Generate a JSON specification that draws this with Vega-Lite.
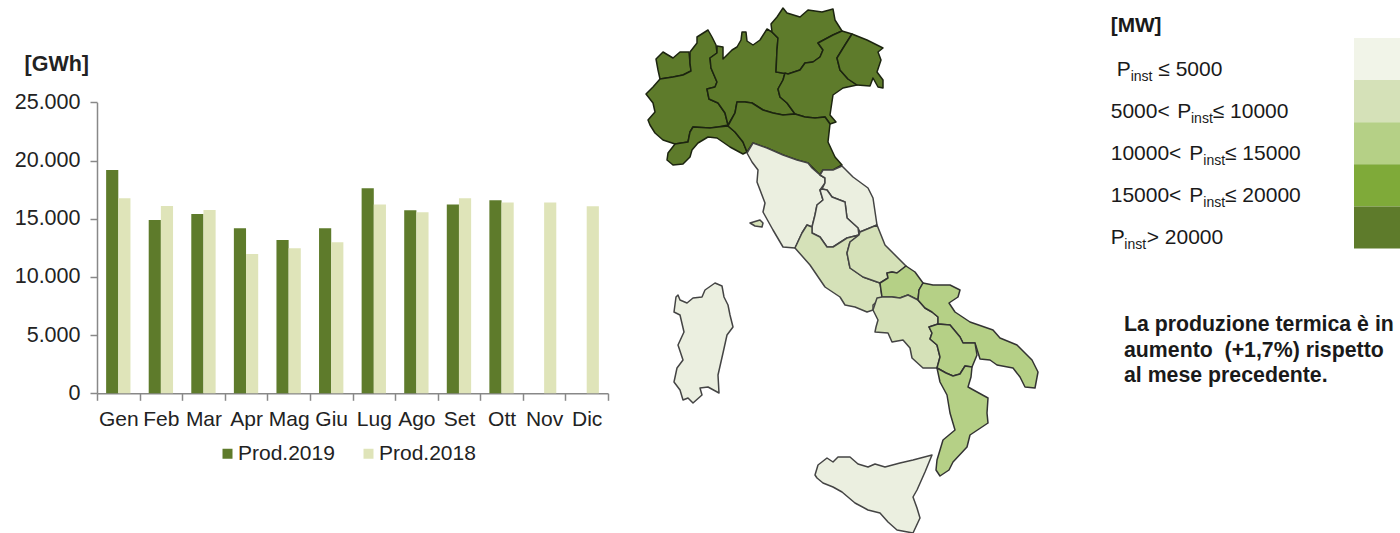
{"$schema":"https://vega.github.io/schema/vega-lite/v6.json","width":1400,"height":533,"padding":0,"autosize":{"type":"none"},"background":"white","config":{"view":{"stroke":null},"font":"Liberation Sans"},
"resolve":{"scale":{"x":"independent","y":"independent","color":"independent"}},
"layer":[
{"data":{"values":[
{"mese":"Gen","serie":"Prod.2019","gwh":19180},{"mese":"Gen","serie":"Prod.2018","gwh":16750},
{"mese":"Feb","serie":"Prod.2019","gwh":14890},{"mese":"Feb","serie":"Prod.2018","gwh":16090},
{"mese":"Mar","serie":"Prod.2019","gwh":15400},{"mese":"Mar","serie":"Prod.2018","gwh":15750},
{"mese":"Apr","serie":"Prod.2019","gwh":14170},{"mese":"Apr","serie":"Prod.2018","gwh":11970},
{"mese":"Mag","serie":"Prod.2019","gwh":13170},{"mese":"Mag","serie":"Prod.2018","gwh":12460},
{"mese":"Giu","serie":"Prod.2019","gwh":14170},{"mese":"Giu","serie":"Prod.2018","gwh":12970},
{"mese":"Lug","serie":"Prod.2019","gwh":17610},{"mese":"Lug","serie":"Prod.2018","gwh":16230},
{"mese":"Ago","serie":"Prod.2019","gwh":15720},{"mese":"Ago","serie":"Prod.2018","gwh":15550},
{"mese":"Set","serie":"Prod.2019","gwh":16230},{"mese":"Set","serie":"Prod.2018","gwh":16750},
{"mese":"Ott","serie":"Prod.2019","gwh":16580},{"mese":"Ott","serie":"Prod.2018","gwh":16400},
{"mese":"Nov","serie":"Prod.2018","gwh":16400},{"mese":"Dic","serie":"Prod.2018","gwh":16070}]},
"mark":{"type":"bar"},
"encoding":{
"x":{"field":"mese","type":"nominal","sort":null,"scale":{"domain":["Gen","Feb","Mar","Apr","Mag","Giu","Lug","Ago","Set","Ott","Nov","Dic"],"range":[97,608],"paddingInner":0,"paddingOuter":0},
"axis":{"title":null,"orient":"bottom","offset":-139.7,"tickBand":"extent","labelAngle":0,"labelFontSize":21,"labelColor":"#222","labelPadding":8,"tickSize":7,"tickColor":"#888","domainColor":"#888","domainWidth":1.5,"tickWidth":1.5,"grid":false,"labelOverlap":false}},
"xOffset":{"field":"serie","type":"nominal","sort":["Prod.2019","Prod.2018"],"scale":{"domain":["Prod.2019","Prod.2018"],"paddingInner":0,"paddingOuter":0.75}},
"y":{"field":"gwh","type":"quantitative","scale":{"domain":[0,25000],"range":[393.3,102.3]},
"axis":{"title":"[GWh]","titleAngle":0,"titleFontSize":21.5,"titleFontWeight":"bold","titleColor":"#222","titleAlign":"left","titleBaseline":"middle","titleX":-73,"titleY":64,"orient":"left","offset":-97,"values":[0,5000,10000,15000,20000,25000],"labelExpr":"replace(format(datum.value,','),',','.')","labelFontSize":21.5,"labelColor":"#222","labelPadding":10,"tickSize":7,"tickColor":"#888","domainColor":"#888","domainWidth":1.5,"tickWidth":1.5,"grid":false}},
"color":{"field":"serie","type":"nominal","scale":{"domain":["Prod.2019","Prod.2018"],"range":["#5E7B2B","#DFE4B9"]},
"legend":{"title":null,"orient":"none","legendX":217,"legendY":443,"direction":"horizontal","symbolType":"square","symbolSize":100,"symbolStrokeWidth":0,"labelFontSize":21,"labelColor":"#222","labelOffset":0,"columnPadding":23}}}},
{"data":{"values":[
{"type":"Feature","properties":{"regione":"Valle d'Aosta","classe":"c5"},"geometry":{"type":"Polygon","coordinates":[[[656,59],[663,52],[668,55],[673,58],[680,52],[689,52],[690,63],[691,71],[683,75],[673,77],[660,79],[658,70],[656,59]]]}},
{"type":"Feature","properties":{"regione":"Piemonte","classe":"c5"},"geometry":{"type":"Polygon","coordinates":[[[690,52],[697,43],[697,37],[708,30],[712,37],[716,45],[717,53],[710,58],[711,68],[717,82],[715,87],[707,89],[709,99],[718,103],[725,113],[728,125],[718,127],[710,128],[693,127],[690,132],[688,142],[675,144],[663,140],[655,133],[650,125],[648,120],[655,112],[653,103],[646,94],[653,87],[660,79],[673,77],[683,75],[691,71],[690,63],[690,52]]]}},
{"type":"Feature","properties":{"regione":"Liguria","classe":"c5"},"geometry":{"type":"Polygon","coordinates":[[[675,144],[688,142],[690,132],[693,127],[710,128],[718,127],[728,126],[735,132],[743,142],[747,152],[743,154],[730,147],[717,138],[708,137],[698,143],[692,150],[690,157],[683,164],[673,165],[667,160],[668,153],[675,144]]]}},
{"type":"Feature","properties":{"regione":"Lombardia","classe":"c5"},"geometry":{"type":"Polygon","coordinates":[[[717,46],[723,47],[723,59],[732,50],[737,47],[741,40],[742,32],[746,32],[747,41],[753,45],[760,40],[767,29],[772,32],[778,38],[777,50],[776,72],[785,73],[783,80],[778,89],[780,97],[787,103],[795,114],[783,115],[773,113],[763,110],[752,103],[745,102],[737,102],[735,113],[728,125],[725,113],[718,103],[709,99],[707,89],[715,87],[717,82],[711,68],[710,58],[717,53],[717,46]]]}},
{"type":"Feature","properties":{"regione":"Trentino-Alto Adige","classe":"c5"},"geometry":{"type":"Polygon","coordinates":[[[771,24],[777,17],[783,8],[787,13],[800,17],[808,10],[822,12],[833,9],[835,20],[842,31],[833,35],[818,43],[823,50],[820,57],[813,62],[805,63],[800,70],[788,74],[776,72],[777,50],[778,38],[772,32],[771,24]]]}},
{"type":"Feature","properties":{"regione":"Veneto","classe":"c5"},"geometry":{"type":"Polygon","coordinates":[[[842,31],[852,34],[845,45],[837,58],[840,70],[848,79],[857,85],[843,88],[833,95],[830,115],[836,122],[830,124],[825,117],[815,118],[805,117],[795,114],[787,103],[780,97],[778,89],[783,80],[785,73],[788,74],[800,70],[805,63],[813,62],[820,57],[823,50],[818,43],[833,35],[842,31]]]}},
{"type":"Feature","properties":{"regione":"Friuli-Venezia Giulia","classe":"c5"},"geometry":{"type":"Polygon","coordinates":[[[852,34],[867,40],[883,48],[878,52],[881,60],[877,72],[883,80],[883,88],[878,87],[873,78],[870,86],[857,85],[848,79],[840,70],[837,58],[845,45],[852,34]]]}},
{"type":"Feature","properties":{"regione":"Emilia-Romagna","classe":"c5"},"geometry":{"type":"Polygon","coordinates":[[[737,102],[745,102],[752,103],[763,110],[773,113],[783,115],[795,114],[805,117],[815,118],[825,117],[830,124],[828,142],[835,157],[842,165],[833,170],[823,170],[820,175],[808,163],[797,160],[783,155],[767,148],[753,143],[747,152],[743,142],[735,132],[728,126],[735,113],[737,102]]]}},
{"type":"Feature","properties":{"regione":"Toscana","classe":"c1"},"geometry":{"type":"Polygon","coordinates":[[[747,153],[753,143],[767,148],[783,155],[797,160],[808,163],[812,168],[820,175],[825,178],[825,183],[820,190],[823,200],[817,205],[815,215],[812,227],[807,225],[802,233],[795,248],[783,247],[773,230],[763,212],[765,203],[757,182],[758,170],[752,162],[747,153]]]}},
{"type":"Feature","properties":{"regione":"Marche","classe":"c1"},"geometry":{"type":"Polygon","coordinates":[[[823,170],[833,170],[842,166],[853,177],[868,188],[873,198],[877,225],[860,232],[858,228],[847,218],[845,202],[832,197],[827,190],[822,189],[825,183],[825,178],[820,175],[823,170]]]}},
{"type":"Feature","properties":{"regione":"Umbria","classe":"c1"},"geometry":{"type":"Polygon","coordinates":[[[822,189],[827,190],[832,197],[845,202],[847,218],[858,228],[859,235],[847,238],[833,247],[827,247],[820,237],[812,233],[812,227],[815,215],[817,205],[823,200],[820,190],[822,189]]]}},
{"type":"Feature","properties":{"regione":"Lazio","classe":"c2"},"geometry":{"type":"Polygon","coordinates":[[[795,248],[802,233],[807,225],[812,227],[812,233],[820,237],[827,247],[833,247],[847,238],[859,235],[850,242],[847,253],[850,268],[863,277],[880,283],[882,297],[873,305],[873,310],[867,312],[855,307],[845,305],[840,297],[825,287],[810,265],[795,248]]]}},
{"type":"Feature","properties":{"regione":"Abruzzo","classe":"c2"},"geometry":{"type":"Polygon","coordinates":[[[859,235],[860,232],[877,225],[885,245],[906,266],[897,273],[892,272],[887,273],[888,278],[880,283],[863,277],[850,268],[847,253],[850,242],[859,235]]]}},
{"type":"Feature","properties":{"regione":"Molise","classe":"c3"},"geometry":{"type":"Polygon","coordinates":[[[880,283],[888,278],[887,273],[892,272],[897,273],[906,266],[915,272],[923,283],[919,290],[918,300],[908,295],[900,298],[892,297],[882,297],[880,283]]]}},
{"type":"Feature","properties":{"regione":"Campania","classe":"c2"},"geometry":{"type":"Polygon","coordinates":[[[873,310],[877,298],[882,297],[892,297],[900,298],[908,295],[918,300],[925,308],[932,312],[938,317],[938,324],[929,327],[932,333],[930,339],[937,345],[940,357],[937,368],[923,368],[912,358],[910,348],[903,340],[892,342],[888,333],[875,332],[876,327],[878,320],[873,310]]]}},
{"type":"Feature","properties":{"regione":"Puglia","classe":"c3"},"geometry":{"type":"Polygon","coordinates":[[[923,283],[933,285],[950,285],[960,290],[958,297],[949,303],[955,312],[970,322],[993,330],[1000,338],[1017,345],[1032,360],[1038,372],[1035,388],[1025,387],[1020,377],[1013,368],[997,365],[990,360],[980,359],[975,343],[963,343],[960,337],[950,325],[938,324],[938,317],[932,312],[925,308],[918,300],[919,290],[923,283]]]}},
{"type":"Feature","properties":{"regione":"Basilicata","classe":"c3"},"geometry":{"type":"Polygon","coordinates":[[[929,327],[938,324],[950,325],[960,337],[963,343],[975,343],[977,355],[972,367],[965,366],[960,374],[953,376],[946,373],[937,368],[940,357],[937,345],[930,339],[932,333],[929,327]]]}},
{"type":"Feature","properties":{"regione":"Calabria","classe":"c3"},"geometry":{"type":"Polygon","coordinates":[[[937,368],[946,373],[953,376],[960,374],[965,366],[972,367],[971,377],[968,387],[988,398],[987,413],[988,423],[970,435],[967,447],[953,462],[949,470],[940,476],[936,470],[937,460],[943,440],[955,430],[950,413],[947,395],[940,382],[937,368]]]}},
{"type":"Feature","properties":{"regione":"Sicilia","classe":"c1"},"geometry":{"type":"Polygon","coordinates":[[[815,475],[818,465],[827,458],[833,462],[838,457],[850,457],[858,464],[868,467],[875,464],[885,467],[900,463],[913,460],[932,455],[925,472],[917,490],[913,497],[917,508],[920,518],[913,533],[897,530],[888,522],[880,513],[868,510],[855,503],[842,492],[833,487],[823,483],[817,478],[815,475]]]}},
{"type":"Feature","properties":{"regione":"Sardegna","classe":"c1"},"geometry":{"type":"Polygon","coordinates":[[[676,297],[678,295],[680,300],[687,303],[693,298],[702,297],[705,290],[715,283],[722,286],[724,297],[728,305],[730,315],[733,327],[727,335],[723,353],[718,375],[719,393],[708,387],[700,388],[702,395],[693,403],[688,398],[683,400],[680,390],[674,382],[677,368],[683,360],[678,345],[684,332],[680,315],[674,312],[676,297]]]}},
{"type":"Feature","properties":{"regione":"Elba","classe":"c2"},"geometry":{"type":"Polygon","coordinates":[[[750,223],[760,220],[763,223],[762,227],[755,226],[750,223]]]}}
]},
"projection":{"type":"identity","scale":1,"translate":[0,0]},
"mark":{"type":"geoshape","strokeWidth":1.5,"strokeJoin":"round"},
"encoding":{"color":{"field":"properties.classe","type":"nominal","scale":{"domain":["c1","c2","c3","c5"],"range":["#EBEFE0","#D5E1B8","#B5D086","#5E7B2B"]},"legend":null},
"stroke":{"field":"properties.classe","type":"nominal","scale":{"domain":["c1","c2","c3","c5"],"range":["#444","#444","#333","#1c2410"]},"legend":null}}},
{"data":{"values":[{"classe":"c1"},{"classe":"c2"},{"classe":"c3"},{"classe":"c4"},{"classe":"c5"}]},
"mark":{"type":"rect"},
"encoding":{"x":{"datum":0,"scale":{"domain":[0,1],"range":[1354,1400]},"axis":null},"x2":{"datum":1},
"y":{"field":"classe","type":"nominal","scale":{"domain":["c1","c2","c3","c4","c5"],"range":[38,248.5],"paddingInner":0,"paddingOuter":0},"axis":null},
"color":{"field":"classe","type":"nominal","scale":{"domain":["c1","c2","c3","c4","c5"],"range":["#F1F4E8","#D5E1B8","#B5D086","#7FAA39","#5E7B2B"]},"legend":null}}},
{"data":{"values":[
{"riga":"c1","at":6.7,"t":"P"},{"riga":"c1","at":48.3,"t":"≤ 5000"},
{"riga":"c2","at":0.7,"t":"5000<"},{"riga":"c2","at":67.3,"t":"P"},{"riga":"c2","at":102.7,"t":"≤ 10000"},
{"riga":"c3","at":0.7,"t":"10000<"},{"riga":"c3","at":79.3,"t":"P"},{"riga":"c3","at":115,"t":"≤ 15000"},
{"riga":"c4","at":0.7,"t":"15000<"},{"riga":"c4","at":79.3,"t":"P"},{"riga":"c4","at":115,"t":"≤ 20000"},
{"riga":"c5","at":0.7,"t":"P"},{"riga":"c5","at":36.7,"t":"> 20000"}]},
"mark":{"type":"text","align":"left","baseline":"alphabetic","fontSize":21,"dy":7.7,"color":"#1a1a1a"},
"encoding":{"x":{"field":"at","type":"quantitative","scale":{"domain":[0,290],"range":[1110,1400]},"axis":null},
"y":{"field":"riga","type":"nominal","scale":{"domain":["MW","c1","c2","c3","c4","c5"],"range":[5,257],"paddingInner":0,"paddingOuter":0},"axis":null},
"text":{"field":"t"}}},
{"data":{"values":[
{"riga":"c1","at":20.7,"t":"inst"},{"riga":"c2","at":81,"t":"inst"},{"riga":"c3","at":93.3,"t":"inst"},{"riga":"c4","at":93.3,"t":"inst"},{"riga":"c5","at":14.3,"t":"inst"}]},
"mark":{"type":"text","align":"left","baseline":"alphabetic","fontSize":14,"dy":13,"color":"#1a1a1a"},
"encoding":{"x":{"field":"at","type":"quantitative","scale":{"domain":[0,290],"range":[1110,1400]},"axis":null},
"y":{"field":"riga","type":"nominal","scale":{"domain":["MW","c1","c2","c3","c4","c5"],"range":[5,257],"paddingInner":0,"paddingOuter":0},"axis":null},
"text":{"field":"t"}}},
{"data":{"values":[{"riga":"MW","at":0.7,"t":"[MW]"}]},
"mark":{"type":"text","align":"left","baseline":"middle","fontSize":20.8,"fontWeight":"bold","color":"#1a1a1a"},
"encoding":{"x":{"field":"at","type":"quantitative","scale":{"domain":[0,290],"range":[1110,1400]},"axis":null},
"y":{"field":"riga","type":"nominal","scale":{"domain":["MW","c1","c2","c3","c4","c5"],"range":[5,257],"paddingInner":0,"paddingOuter":0},"axis":null},
"text":{"field":"t"}}},
{"data":{"values":[{"riga":"r1","t":"La produzione termica è in"},{"riga":"r2","t":"aumento\u00a0 (+1,7%) rispetto"},{"riga":"r3","t":"al mese precedente."}]},
"mark":{"type":"text","align":"left","baseline":"middle","fontSize":21.3,"fontWeight":"bold","color":"#1a1a1a"},
"encoding":{"x":{"datum":0,"scale":{"domain":[0,1],"range":[1124,1400]},"axis":null},
"y":{"field":"riga","type":"nominal","scale":{"domain":["r1","r2","r3"],"range":[312.5,388.5],"paddingInner":0,"paddingOuter":0},"axis":null},
"text":{"field":"t"}}}
]}
